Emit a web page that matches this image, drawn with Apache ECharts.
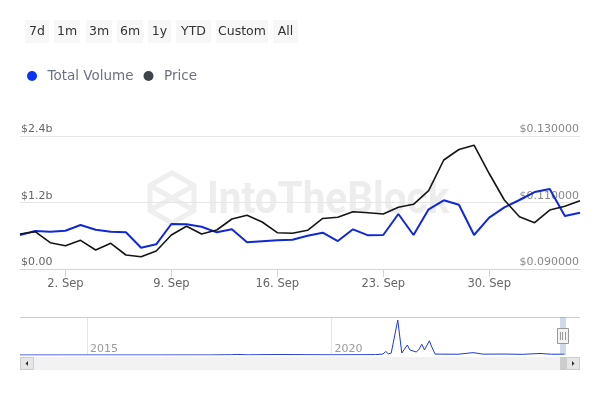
<!DOCTYPE html>
<html><head><meta charset="utf-8">
<script src="https://cdn.jsdelivr.net/npm/echarts@6/dist/echarts.min.js"></script>
<style>html,body{margin:0;padding:0;background:#fff}#c{width:600px;height:400px}</style>
</head><body><div id="c"></div>
<script>
// ---- data ----
const dates = ['2024-08-30','2024-08-31','2024-09-01','2024-09-02','2024-09-03','2024-09-04','2024-09-05','2024-09-06','2024-09-07','2024-09-08','2024-09-09','2024-09-10','2024-09-11','2024-09-12','2024-09-13','2024-09-14','2024-09-15','2024-09-16','2024-09-17','2024-09-18','2024-09-19','2024-09-20','2024-09-21','2024-09-22','2024-09-23','2024-09-24','2024-09-25','2024-09-26','2024-09-27','2024-09-28','2024-09-29','2024-09-30','2024-10-01','2024-10-02','2024-10-03','2024-10-04','2024-10-05','2024-10-06'];
// Total volume in billions USD
const totalVolume = [0.614,0.686,0.673,0.691,0.794,0.709,0.673,0.662,0.384,0.446,0.812,0.807,0.763,0.662,0.716,0.482,0.500,0.518,0.529,0.601,0.655,0.505,0.716,0.608,0.614,0.992,0.614,1.077,1.240,1.160,0.614,0.926,1.113,1.245,1.389,1.444,0.956,1.016];
// Price in USD
const price = [0.10053,0.10122,0.09791,0.09701,0.09863,0.09571,0.09773,0.09421,0.09370,0.09541,0.10023,0.10284,0.10053,0.10173,0.10504,0.10615,0.10414,0.10092,0.10074,0.10164,0.10519,0.10555,0.10723,0.10693,0.10654,0.10859,0.10946,0.11355,0.12278,0.12594,0.12723,0.11872,0.11075,0.10573,0.10392,0.10774,0.10886,0.11054];
const tickLabels = ['2. Sep','9. Sep','16. Sep','23. Sep','30. Sep'];
const leftTicks = [0, 1.2, 2.4];
const rightTicks = [0.09, 0.11, 0.13];
// navigator: full history (year fraction, volume in billions)
const navYears  = [2013.63,2014.5,2015.5,2016.5,2017.5,2017.95,2018.05,2018.3,2018.7,2019.05,2019.5,2020.0,2020.5,2020.9,2021.05,2021.11,2021.16,2021.22,2021.354,2021.436,2021.55,2021.6,2021.64,2021.73,2021.78,2021.845,2021.9,2022.0,2022.05,2022.117,2022.3,2022.587,2022.894,2023.1,2023.548,2023.9,2024.264,2024.5,2024.76];
const navVolume = [0.0,0.01,0.02,0.02,0.05,0.3,0.6,0.2,0.4,0.5,0.3,0.2,0.3,0.4,1.0,3.7,1.2,2.0,36.8,2.1,10.5,5.3,7.4,3.2,5.3,11.3,5.3,15.0,8.4,1.0,0.9,0.8,2.5,0.9,1.0,0.7,1.6,0.8,0.9];
const navYearLabels = [2015, 2020];
const rangeButtons = ['7d','1m','3m','6m','1y','YTD','Custom','All'];

// ---- helpers ----
const MON = ['Jan','Feb','Mar','Apr','May','Jun','Jul','Aug','Sep','Oct','Nov','Dec'];
function fmtDate(s){ const p = s.split('-'); return (+p[2]) + '. ' + MON[+p[1]-1]; }
function showTick(idx, val){ return tickLabels.indexOf(fmtDate(dates[idx])) >= 0; }

const FONT = 'DejaVu Sans';
const btnLayout = [[25,24],[54,26],[86,26],[117,26],[148,23],[176,35],[216,52],[273,25]];
const graphics = [];
rangeButtons.forEach((t,i)=>{
  const [x,w] = btnLayout[i];
  graphics.push({type:'rect', shape:{x:x,y:20,width:w,height:23}, style:{fill:'#f7f7f7'}, z:1});
  graphics.push({type:'text', x:x+w/2, y:32, style:{text:t, fill:'#333', font:'12.5px '+FONT, align:'center', verticalAlign:'middle'}, z:2});
});
// watermark
graphics.push({type:'polygon', shape:{points:[[172,173],[194,185.5],[194,210.5],[172,223],[150,210.5],[150,185.5]]}, style:{fill:'none', stroke:'#efefef', lineWidth:5}, z:-1});
graphics.push({type:'polyline', shape:{points:[[150,185.5],[172,198],[194,185.5]]}, style:{fill:'none', stroke:'#efefef', lineWidth:5}, z:-1});
graphics.push({type:'polyline', shape:{points:[[172,198],[150,210.5]]}, style:{fill:'none', stroke:'#efefef', lineWidth:5}, z:-1});
graphics.push({type:'polyline', shape:{points:[[172,198],[194,210.5]]}, style:{fill:'none', stroke:'#efefef', lineWidth:5}, z:-1});
graphics.push({type:'text', x:207, y:202, scaleX:0.92, style:{text:'IntoTheBlock', fill:'#ededed', font:'bold 44px Roboto', verticalAlign:'middle'}, z:-1});
// navigator decorations
graphics.push({type:'line', shape:{x1:20,y1:317.5,x2:580,y2:317.5}, style:{stroke:'#cccccc', lineWidth:1}, z:5});
graphics.push({type:'rect', shape:{x:560,y:317,width:6,height:38}, style:{fill:'rgba(102,133,194,0.3)'}, z:5});
graphics.push({type:'rect', shape:{x:557.5,y:328.5,width:11,height:15}, style:{fill:'#f2f2f2', stroke:'#999', lineWidth:1}, z:6});
[560.5,562.5,565.5].forEach(x=>graphics.push({type:'line', shape:{x1:x,y1:332,x2:x,y2:340}, style:{stroke:'#999', lineWidth:1}, z:7}));
// scrollbar
graphics.push({type:'rect', shape:{x:20,y:357,width:560,height:13}, style:{fill:'#f2f2f2'}, z:5});
graphics.push({type:'rect', shape:{x:560,y:357,width:6,height:13}, style:{fill:'#cccccc'}, z:6});
graphics.push({type:'rect', shape:{x:20.5,y:357.5,width:13,height:12}, style:{fill:'#e6e6e6', stroke:'#cccccc', lineWidth:1}, z:6});
graphics.push({type:'rect', shape:{x:566.5,y:357.5,width:13,height:12}, style:{fill:'#e6e6e6', stroke:'#cccccc', lineWidth:1}, z:6});
graphics.push({type:'polygon', shape:{points:[[25.5,363.5],[28,361],[28,366]]}, style:{fill:'#333'}, z:7});
graphics.push({type:'polygon', shape:{points:[[574.5,363.5],[572,361],[572,366]]}, style:{fill:'#333'}, z:7});

const chart = echarts.init(document.getElementById('c'), null, {renderer:'canvas'});
chart.setOption({
  animation:false,
  textStyle:{fontFamily:FONT},
  legend:{
    left:22, top:64, icon:'circle', itemWidth:21, itemHeight:10, itemGap:10,
    textStyle:{color:'#6b7280', fontSize:13.5, fontFamily:FONT},
    data:[{name:'Total Volume', itemStyle:{color:'#0a33f5'}}, {name:'Price', itemStyle:{color:'#40444b'}}]
  },
  grid:[
    {left:20, right:20, top:136, height:133},
    {left:20, right:20, top:317, height:38}
  ],
  xAxis:[
    {type:'category', gridIndex:0, data:dates, boundaryGap:false,
     axisLine:{lineStyle:{color:'#ccd6eb'}},
     axisTick:{interval:showTick, length:8, lineStyle:{color:'#ccd6eb'}},
     axisLabel:{interval:showTick, formatter:v=>fmtDate(v), color:'#666', fontSize:11.5, margin:9, fontFamily:FONT},
     splitLine:{show:false}},
    {type:'value', gridIndex:1, min:2013.63, max:2025.08,
     axisLine:{show:false},
     axisTick:{show:false, customValues:navYearLabels},
     axisLabel:{customValues:navYearLabels, inside:true, align:'left', padding:[0,0,0,3], margin:0, color:'#999', fontSize:11, fontFamily:FONT, formatter:v=>String(v)},
     splitLine:{show:true, lineStyle:{color:'#e6e6e6'}}}
  ],
  yAxis:[
    {type:'value', gridIndex:0, position:'left', min:0, max:2.4, interval:1.2,
     axisLine:{show:false}, axisTick:{show:false},
     splitLine:{lineStyle:{color:'#e6e6e6'}},
     axisLabel:{inside:true, margin:1, verticalAlign:'bottom', padding:[0,0,1,0], color:'#666', fontSize:11, fontFamily:FONT,
       formatter:v=> v===0 ? '$0.00' : '$'+v.toFixed(1)+'b'}},
    {type:'value', gridIndex:0, position:'right', min:0.09, max:0.13,
     axisLine:{show:false}, axisTick:{show:false, customValues:rightTicks}, splitLine:{show:false},
     axisLabel:{customValues:rightTicks, inside:true, margin:1, verticalAlign:'bottom', padding:[0,0,1,0], color:'#888', fontSize:11, fontFamily:FONT,
       formatter:v=>'$'+v.toFixed(6)}},
    {type:'value', gridIndex:1, min:0, max:40, show:false, splitLine:{show:false}}
  ],
  series:[
    {name:'Total Volume', type:'line', xAxisIndex:0, yAxisIndex:0, data:totalVolume, symbol:'none',
     lineStyle:{color:'#1029d4', width:2}, itemStyle:{color:'#0a33f5'}},
    {name:'Price', type:'line', xAxisIndex:0, yAxisIndex:1, data:price, symbol:'none',
     lineStyle:{color:'#151515', width:1.6}, itemStyle:{color:'#40444b'}},
    {name:'nav', type:'line', xAxisIndex:1, yAxisIndex:2, data:navYears.map((y,i)=>[y,navVolume[i]]), symbol:'none',
     lineStyle:{color:'#1f3ad6', width:1}, silent:true}
  ],
  graphic:graphics
});
</script></body></html>
